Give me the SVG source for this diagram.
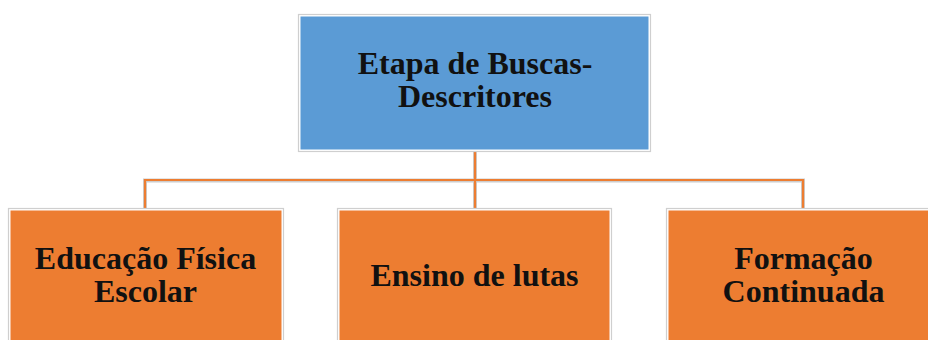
<svg xmlns="http://www.w3.org/2000/svg" width="928" height="340" viewBox="0 0 928 340">
<style>
.frame{fill:#ffffff;stroke:#cfcfcf;stroke-width:1.2}
.blue{fill:#5B9BD5}
.orange{fill:#ED7D31}
.t{font-family:"Liberation Serif","Times New Roman",serif;font-weight:bold;font-size:32px;fill:#111111;text-anchor:middle}
.shadow{fill:none;stroke:#cccccc;stroke-width:4}
.line{fill:none;stroke:#ED7D31;stroke-width:2.2}
</style>
<rect width="928" height="340" fill="#ffffff"/>
<g id="connectors">
<path class="shadow" d="M475 152 V209 M145 209 V180.5 H803 V209"/>
<path class="line" d="M475 152 V209 M145 209 V180 H803 V209"/>
</g>
<g id="root">
<rect class="frame" x="298.5" y="14.5" width="352" height="137"/>
<rect class="blue" x="300.5" y="16.5" width="348" height="133"/>
<text class="t" x="475" y="74">Etapa de Buscas-</text>
<text class="t" x="475" y="107">Descritores</text>
</g>
<g id="node-educacao">
<rect class="frame" x="8.5" y="208.5" width="275" height="140"/>
<rect class="orange" x="10.5" y="210.5" width="271" height="140"/>
<text class="t" x="145.5" y="269">Educação Física</text>
<text class="t" x="145.5" y="302">Escolar</text>
</g>
<g id="node-ensino">
<rect class="frame" x="337.5" y="208.5" width="274" height="140"/>
<rect class="orange" x="339.5" y="210.5" width="270" height="140"/>
<text class="t" x="474.5" y="286">Ensino de lutas</text>
</g>
<g id="node-formacao">
<rect class="frame" x="666.5" y="208.5" width="274" height="140"/>
<rect class="orange" x="668.5" y="210.5" width="270" height="140"/>
<text class="t" x="803.5" y="269">Formação</text>
<text class="t" x="803.5" y="302">Continuada</text>
</g>
</svg>
